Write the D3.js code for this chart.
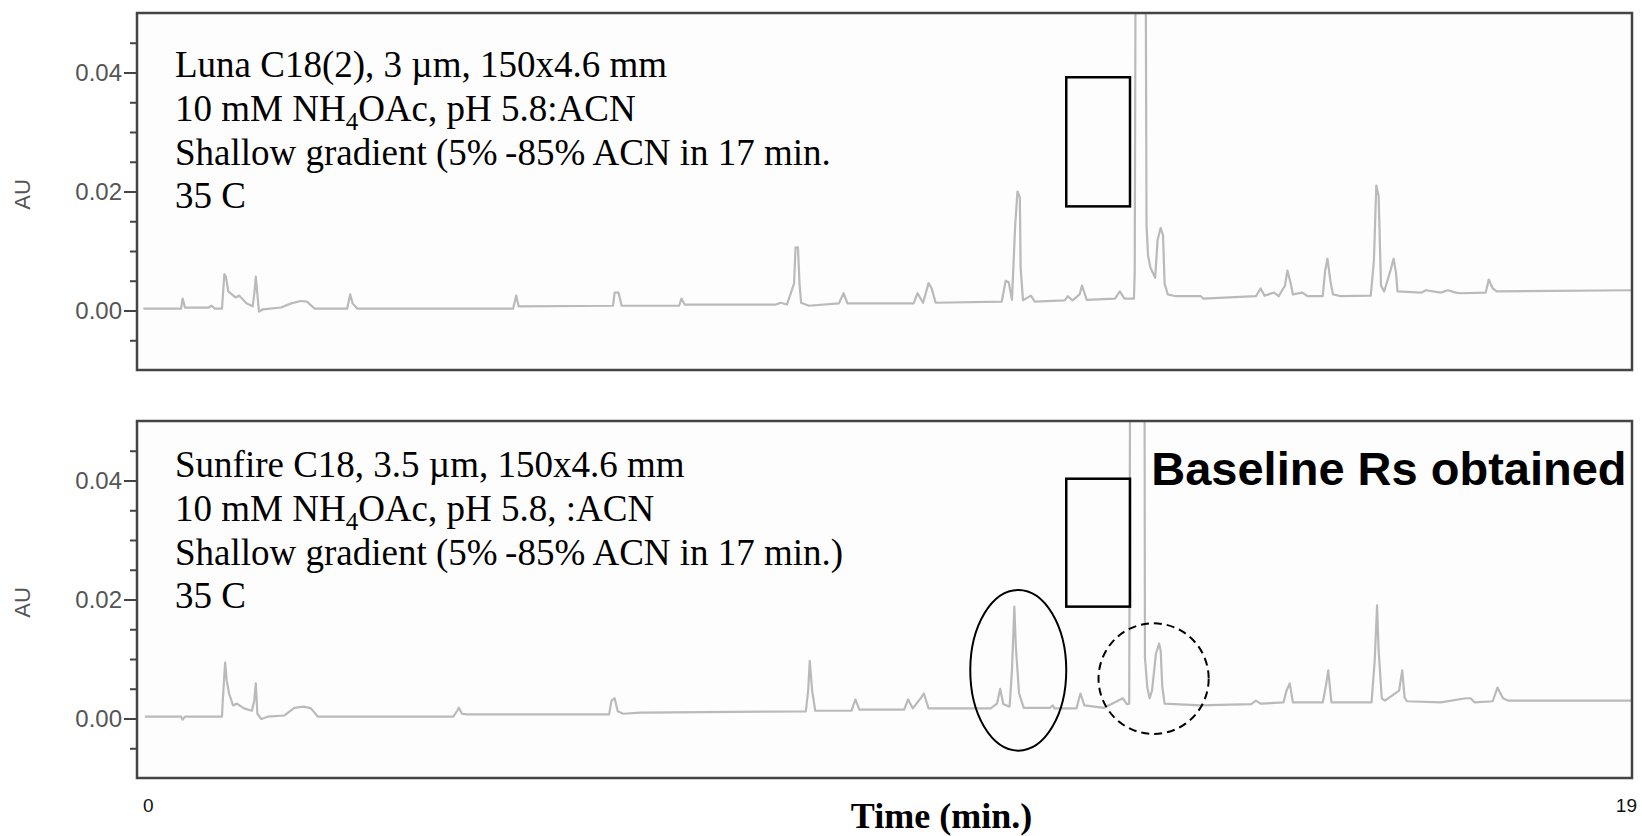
<!DOCTYPE html>
<html>
<head>
<meta charset="utf-8">
<script src="https://cdn.jsdelivr.net/npm/d3@7"></script>
<style>
	body { margin: 0; background: #ffffff; }
	svg { display: block; }
</style>
</head>
<body>
<svg id="chart" width="1642" height="836"></svg>
<script>

// Luna C18(2) trace: retention time (min) and absorbance (AU)
var lunaTimes = [0.08, 0.56, 0.58, 0.61, 0.91, 0.95, 0.99, 1.08, 1.11, 1.13, 1.16, 1.25, 1.30, 1.39, 1.47, 1.49, 1.51, 1.55, 1.60, 1.83,
	1.96, 2.08, 2.16, 2.26, 2.67, 2.71, 2.74, 2.80, 4.78, 4.82, 4.85, 6.05, 6.07, 6.12, 6.16, 6.89, 6.92, 6.96, 8.12, 8.18,
	8.26, 8.35, 8.37, 8.40, 8.42, 8.44, 8.54, 8.92, 8.98, 9.03, 9.87, 9.92, 9.99, 10.06, 10.10, 10.15, 10.99, 11.04, 11.08, 11.12,
	11.16, 11.19, 11.22, 11.23, 11.26, 11.36, 11.41, 11.79, 11.83, 11.89, 11.98, 12.01, 12.07, 12.43, 12.49, 12.55, 12.67, 12.68, 12.70, 12.81,
	12.83, 12.85, 12.88, 12.94, 12.97, 13.01, 13.04, 13.06, 13.10, 13.20, 13.52, 13.55, 14.22, 14.28, 14.33, 14.45, 14.51, 14.59, 14.62, 14.66,
	14.69, 14.81, 14.88, 15.07, 15.10, 15.13, 15.17, 15.20, 15.30, 15.68, 15.72, 15.75, 15.78, 15.81, 15.85, 15.93, 15.97, 16.00, 16.02, 16.32,
	16.38, 16.57, 16.66, 16.76, 16.82, 17.14, 17.18, 17.23, 17.28, 19.00];
var lunaAU = [0.0003, 0.0003, 0.0020, 0.0005, 0.0005, 0.0008, 0.0003, 0.0003, 0.0061, 0.0057, 0.0032, 0.0022, 0.0025, 0.0012, 0.0007, 0.0027, 0.0057, -0.0002, 0.0002, 0.0005,
	0.0012, 0.0016, 0.0015, 0.0003, 0.0003, 0.0027, 0.0012, 0.0003, 0.0003, 0.0025, 0.0007, 0.0008, 0.0030, 0.0030, 0.0008, 0.0008, 0.0020, 0.0010, 0.0010, 0.0013,
	0.0010, 0.0045, 0.0106, 0.0106, 0.0045, 0.0013, 0.0008, 0.0012, 0.0029, 0.0012, 0.0012, 0.0029, 0.0013, 0.0046, 0.0037, 0.0013, 0.0015, 0.0050, 0.0047, 0.0018,
	0.0141, 0.0200, 0.0190, 0.0072, 0.0017, 0.0025, 0.0015, 0.0017, 0.0024, 0.0017, 0.0027, 0.0042, 0.0018, 0.0020, 0.0032, 0.0020, 0.0020, 0.0064, 0.1000, 0.1000,
	0.0143, 0.0092, 0.0072, 0.0055, 0.0118, 0.0139, 0.0126, 0.0045, 0.0027, 0.0024, 0.0024, 0.0020, 0.0024, 0.0037, 0.0025, 0.0030, 0.0024, 0.0042, 0.0067, 0.0047,
	0.0027, 0.0030, 0.0024, 0.0024, 0.0067, 0.0087, 0.0047, 0.0027, 0.0024, 0.0025, 0.0084, 0.0210, 0.0193, 0.0042, 0.0032, 0.0067, 0.0087, 0.0064, 0.0032, 0.0030,
	0.0034, 0.0030, 0.0034, 0.0030, 0.0029, 0.0030, 0.0052, 0.0037, 0.0032, 0.0034];

// Sunfire C18 trace
var sunfireTimes = [0.10, 0.56, 0.58, 0.61, 1.08, 1.09, 1.12, 1.14, 1.17, 1.22, 1.27, 1.36, 1.46, 1.49, 1.51, 1.53, 1.58, 1.66, 1.87, 2.00,
	2.12, 2.21, 2.30, 4.02, 4.07, 4.09, 4.13, 4.19, 6.00, 6.03, 6.07, 6.11, 6.18, 6.40, 8.50, 8.53, 8.55, 8.58, 8.62, 9.08,
	9.13, 9.18, 9.75, 9.80, 9.86, 9.96, 10.00, 10.06, 10.85, 10.93, 10.97, 11.01, 11.09, 11.12, 11.15, 11.17, 11.21, 11.27, 11.60, 11.64,
	11.66, 11.94, 11.99, 12.04, 12.29, 12.53, 12.58, 12.61, 12.63, 12.80, 12.81, 12.84, 12.87, 12.90, 12.95, 12.99, 13.01, 13.03, 13.06, 13.51,
	14.16, 14.22, 14.28, 14.57, 14.61, 14.65, 14.69, 15.07, 15.11, 15.14, 15.18, 15.69, 15.73, 15.76, 15.78, 15.82, 15.86, 16.04, 16.08, 16.11,
	16.14, 16.57, 16.89, 16.95, 17.00, 17.23, 17.29, 17.36, 17.43, 19.00];
var sunfireAU = [0.0003, 0.0003, -0.0002, 0.0003, 0.0003, 0.0030, 0.0094, 0.0064, 0.0042, 0.0022, 0.0025, 0.0017, 0.0013, 0.0030, 0.0059, 0.0008, -0.0001, 0.0003, 0.0005, 0.0018,
	0.0020, 0.0017, 0.0003, 0.0003, 0.0013, 0.0018, 0.0008, 0.0007, 0.0007, 0.0030, 0.0034, 0.0012, 0.0008, 0.0010, 0.0012, 0.0047, 0.0097, 0.0047, 0.0013, 0.0013,
	0.0032, 0.0015, 0.0015, 0.0032, 0.0017, 0.0034, 0.0042, 0.0017, 0.0017, 0.0025, 0.0050, 0.0024, 0.0020, 0.0081, 0.0188, 0.0119, 0.0042, 0.0018, 0.0018, 0.0022,
	0.0017, 0.0017, 0.0042, 0.0022, 0.0018, 0.0034, 0.0024, 0.0025, 0.1000, 0.1000, 0.0103, 0.0052, 0.0034, 0.0047, 0.0109, 0.0126, 0.0114, 0.0054, 0.0025, 0.0022,
	0.0024, 0.0030, 0.0025, 0.0027, 0.0047, 0.0059, 0.0027, 0.0027, 0.0055, 0.0081, 0.0027, 0.0027, 0.0097, 0.0190, 0.0114, 0.0034, 0.0030, 0.0047, 0.0081, 0.0035,
	0.0029, 0.0027, 0.0034, 0.0034, 0.0027, 0.0029, 0.0052, 0.0034, 0.0030, 0.0030];

var timeDomain = [0, 19];
var auDomain = [-0.01, 0.05];
var majorTicks = [0.00, 0.02, 0.04];
var minorTicks = [-0.005, 0.005, 0.01, 0.015, 0.025, 0.03, 0.035, 0.045];
var timeLabels = [0, 19];

// method notes, odd parts are subscripts
var lunaNotes = [["Luna C18(2), 3 \u00b5m, 150x4.6 mm"], ["10 mM NH", "4", "OAc, pH 5.8:ACN"],
	["Shallow gradient (5%\u2009-85% ACN in 17 min."], ["35 C"]];
var sunfireNotes = [["Sunfire C18, 3.5 \u00b5m, 150x4.6 mm"], ["10 mM NH", "4", "OAc, pH 5.8, :ACN"],
	["Shallow gradient (5%\u2009-85% ACN in 17 min.)"], ["35 C"]];

// highlight boxes [t0, t1, au0, au1] and ellipses [t, au, rt, rau]
var lunaBox = [11.81, 12.62, 0.0175, 0.0392];
var sunfireBox = [11.81, 12.62, 0.0188, 0.0403];
var sunfireRing = [11.20, 0.0081, 0.61, 0.0135];
var sunfireDashedRing = [12.92, 0.0067, 0.70, 0.0093];

var svg = d3.select("#chart");
var left = 137, right = 1632;

var x = d3.scaleLinear().domain(timeDomain).range([left, right]);

svg.append("rect").attr("width", 1642).attr("height", 836).attr("fill", "#ffffff");

function drawPanel(name, top, bottom, times, values, notes, notesY, box) {
	var y = d3.scaleLinear().domain(auDomain).range([bottom, top]);
	var g = svg.append("g").classed("panel-" + name, true);

	g.append("rect")
		.attr("x", left).attr("y", top)
		.attr("width", right - left).attr("height", bottom - top)
		.attr("fill", "#fdfdfd");

	svg.append("defs").append("clipPath").attr("id", "clip-" + name)
		.append("rect")
		.attr("x", left).attr("y", top)
		.attr("width", right - left).attr("height", bottom - top);

	var points = times.map(function (t, i) { return [t, values[i]]; });
	var line = d3.line()
		.x(function (d) { return x(d[0]); })
		.y(function (d) { return y(d[1]); });

	g.append("path")
		.datum(points)
		.attr("clip-path", "url(#clip-" + name + ")")
		.attr("d", line)
		.attr("fill", "none")
		.attr("stroke", "#bababa")
		.attr("stroke-width", 2.2)
		.attr("stroke-linejoin", "round");

	// minor and major ticks on the left edge
	var minor = g.append("g")
		.attr("transform", "translate(" + left + ",0)")
		.call(d3.axisLeft(y).tickValues(minorTicks).tickSize(7).tickSizeOuter(0).tickFormat(""));
	var major = g.append("g")
		.attr("transform", "translate(" + left + ",0)")
		.call(d3.axisLeft(y).tickValues(majorTicks).tickSize(13).tickSizeOuter(0).tickPadding(2).tickFormat(d3.format(".2f")));
	[minor, major].forEach(function (a) {
		a.select(".domain").remove();
		a.selectAll(".tick line").attr("stroke", "#444").attr("stroke-width", 2);
	});
	major.selectAll(".tick text")
		.attr("fill", "#555")
		.style("font-family", "'Liberation Sans', Arial, sans-serif")
		.style("font-size", "24px");

	g.append("rect")
		.attr("x", left).attr("y", top)
		.attr("width", right - left).attr("height", bottom - top)
		.attr("fill", "none")
		.attr("stroke", "#444")
		.attr("stroke-width", 2.5);

	g.append("text")
		.attr("transform", "translate(30," + ((top + bottom) / 2 + 3) + ") rotate(-90)")
		.attr("text-anchor", "middle")
		.attr("fill", "#555")
		.style("font-family", "'Liberation Sans', Arial, sans-serif")
		.style("font-size", "22px")
		.text("AU");

	// notes block
	notes.forEach(function (parts, i) {
		var t = g.append("text")
			.attr("x", 175)
			.attr("y", notesY + i * 43.8)
			.attr("fill", "#000")
			.style("font-family", "'Liberation Serif', 'Times New Roman', serif")
			.style("font-size", "37px");
		parts.forEach(function (p, k) {
			var span = t.append("tspan").text(p);
			if (k % 2 == 1) {
				span.attr("dy", 9).style("font-size", "25px");
			} else if (k > 0) {
				span.attr("dy", -9);
			}
		});
	});

	g.append("rect")
		.attr("x", x(box[0])).attr("y", y(box[3]))
		.attr("width", x(box[1]) - x(box[0]))
		.attr("height", y(box[2]) - y(box[3]))
		.attr("fill", "none")
		.attr("stroke", "#000")
		.attr("stroke-width", 2.5);

	return y;
}

drawPanel("luna", 13, 370, lunaTimes, lunaAU, lunaNotes, 77, lunaBox);
var y2 = drawPanel("sunfire", 421, 778, sunfireTimes, sunfireAU, sunfireNotes, 477, sunfireBox);

// rings on the Sunfire panel
var rings = svg.append("g").attr("fill", "none").attr("stroke", "#000").attr("stroke-width", 2);
rings.append("ellipse")
	.attr("cx", x(sunfireRing[0])).attr("cy", y2(sunfireRing[1]))
	.attr("rx", x(sunfireRing[2]) - x(0)).attr("ry", y2(0) - y2(sunfireRing[3]));
rings.append("ellipse")
	.attr("cx", x(sunfireDashedRing[0])).attr("cy", y2(sunfireDashedRing[1]))
	.attr("rx", x(sunfireDashedRing[2]) - x(0)).attr("ry", y2(0) - y2(sunfireDashedRing[3]))
	.attr("stroke-dasharray", "8,5");

svg.append("text")
	.attr("x", x(12.89)).attr("y", y2(0.0392))
	.attr("fill", "#000")
	.style("font-family", "'Liberation Sans', Arial, sans-serif")
	.style("font-weight", "bold")
	.style("font-size", "47px")
	.text("Baseline Rs obtained");

// time axis labels, only the ends are marked
svg.selectAll(".time-label")
	.data(timeLabels)
	.enter()
	.append("text")
	.classed("time-label", true)
	.attr("x", function (d) { return d == 0 ? x(d) + 6 : x(d) + 5; })
	.attr("y", 812)
	.attr("text-anchor", function (d) { return d == 0 ? "start" : "end"; })
	.attr("fill", "#111")
	.style("font-family", "'Liberation Sans', Arial, sans-serif")
	.style("font-size", "19px")
	.text(function (d) { return d; });

svg.append("text")
	.attr("x", (x(0) + x(19)) / 2 + 57)
	.attr("y", 828)
	.attr("text-anchor", "middle")
	.attr("fill", "#000")
	.style("font-family", "'Liberation Serif', 'Times New Roman', serif")
	.style("font-weight", "bold")
	.style("font-size", "36px")
	.text("Time (min.)");

</script>
</body>
</html>
